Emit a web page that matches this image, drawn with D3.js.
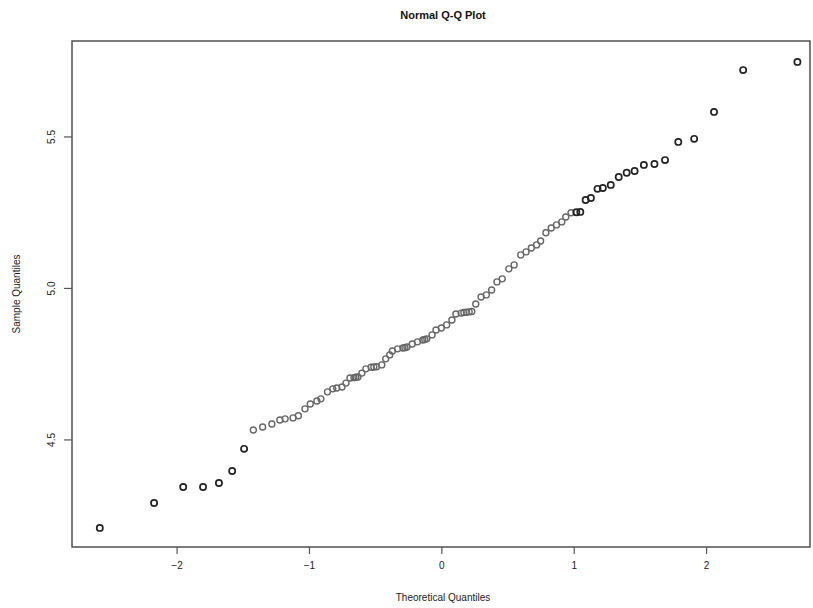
<!DOCTYPE html>
<html>
<head>
<meta charset="utf-8">
<script src="https://cdn.jsdelivr.net/npm/d3@7"></script>
<style>
  html, body { margin: 0; padding: 0; background: #fff; }
  svg { display: block; font-family: "Liberation Sans", Arial, sans-serif; }
</style>
</head>
<body>
<svg id="chart" width="813" height="608"></svg>
<script>
// Theoretical quantiles (x) and sample quantiles (y)
const theoretical = [
  -2.58, -2.17, -1.95, -1.80, -1.68, -1.58, -1.49, -1.42, -1.35, -1.28,
  -1.22, -1.18, -1.12, -1.08, -1.03, -0.99, -0.94, -0.91, -0.86, -0.82,
  -0.79, -0.75, -0.72, -0.69, -0.66, -0.645, -0.63, -0.60, -0.57, -0.53,
  -0.51, -0.49, -0.45, -0.42, -0.39, -0.37, -0.33, -0.29, -0.275, -0.26,
  -0.22, -0.18, -0.14, -0.125, -0.11, -0.07, -0.04, 0.00, 0.04, 0.08,
  0.11, 0.15, 0.17, 0.19, 0.21, 0.23, 0.26, 0.30, 0.34, 0.38,
  0.42, 0.46, 0.51, 0.55, 0.60, 0.64, 0.68, 0.72, 0.75, 0.79,
  0.83, 0.87, 0.91, 0.94, 0.98, 1.02, 1.05, 1.09, 1.13, 1.18,
  1.22, 1.28, 1.34, 1.40, 1.46, 1.53, 1.61, 1.69, 1.79, 1.91,
  2.06, 2.28, 2.69
];
const sample = [
  4.208, 4.290, 4.343, 4.343, 4.356, 4.396, 4.469, 4.531, 4.541, 4.551,
  4.564, 4.568, 4.571, 4.578, 4.601, 4.617, 4.627, 4.634, 4.657, 4.667,
  4.670, 4.673, 4.686, 4.703, 4.704, 4.705, 4.706, 4.719, 4.733, 4.738,
  4.739, 4.740, 4.746, 4.766, 4.779, 4.792, 4.799, 4.802, 4.803, 4.805,
  4.815, 4.822, 4.828, 4.830, 4.832, 4.845, 4.861, 4.868, 4.878, 4.894,
  4.914, 4.917, 4.919, 4.920, 4.921, 4.922, 4.947, 4.970, 4.977, 4.993,
  5.020, 5.030, 5.063, 5.076, 5.109, 5.119, 5.132, 5.142, 5.155, 5.182,
  5.198, 5.208, 5.218, 5.234, 5.248, 5.250, 5.251, 5.290, 5.297, 5.327,
  5.330, 5.340, 5.366, 5.380, 5.386, 5.406, 5.409, 5.422, 5.482, 5.492,
  5.581, 5.719, 5.746
];
const xTicks = [-2, -1, 0, 1, 2];
const yTicks = [4.5, 5.0, 5.5];
const yTickLabels = ["4.5", "5.0", "5.5"];
const xDomain = [-2.79, 2.785];
const yDomain = [4.145, 5.815];
const titleText = "Normal Q-Q Plot";
const xLabel = "Theoretical Quantiles";
const yLabel = "Sample Quantiles";

const svg = d3.select("#chart");
const plot = { left: 72, right: 810, top: 41, bottom: 547 };

const x = d3.scaleLinear().domain(xDomain).range([plot.left, plot.right]);
const y = d3.scaleLinear().domain(yDomain).range([plot.bottom, plot.top]);

// Title
svg.append("text")
  .attr("x", (plot.left + plot.right) / 2 + 2)
  .attr("y", 19)
  .attr("text-anchor", "middle")
  .attr("font-size", 11)
  .attr("font-weight", "bold")
  .attr("fill", "#111")
  .text(titleText);

// Box
svg.append("rect")
  .attr("x", plot.left).attr("y", plot.top)
  .attr("width", plot.right - plot.left)
  .attr("height", plot.bottom - plot.top)
  .attr("fill", "none")
  .attr("stroke", "#444")
  .attr("stroke-width", 1.4);

// X axis
const xAxis = d3.axisBottom(x).tickValues(xTicks)
  .tickSize(7).tickPadding(8)
  .tickFormat(d => d < 0 ? "\u2212" + Math.abs(d) : String(d));
const gx = svg.append("g").attr("transform", `translate(0,${plot.bottom})`).call(xAxis);
gx.select(".domain").remove();
gx.selectAll(".tick line").attr("stroke", "#555").attr("stroke-width", 1.2);
gx.selectAll(".tick text").attr("font-size", 10).attr("fill", "#222")
  .attr("font-family", "Liberation Sans, Arial, sans-serif");

// Y axis
const yAxis = d3.axisLeft(y).tickValues(yTicks)
  .tickSize(8).tickPadding(0)
  .tickFormat((d, i) => yTickLabels[i]);
const gy = svg.append("g").attr("transform", `translate(${plot.left},0)`).call(yAxis);
gy.select(".domain").remove();
gy.selectAll(".tick line").attr("stroke", "#555").attr("stroke-width", 1.2);
gy.selectAll(".tick text")
  .attr("font-size", 10).attr("fill", "#222")
  .attr("font-family", "Liberation Sans, Arial, sans-serif")
  .attr("x", 0).attr("dy", 0)
  .attr("text-anchor", "middle")
  .attr("transform", "translate(-17,0) rotate(-90)");

// Axis labels
svg.append("text")
  .attr("x", (plot.left + plot.right) / 2 + 2)
  .attr("y", 601)
  .attr("text-anchor", "middle")
  .attr("font-size", 10)
  .attr("fill", "#222")
  .text(xLabel);

svg.append("text")
  .attr("transform", `translate(20,${(plot.top + plot.bottom) / 2}) rotate(-90)`)
  .attr("text-anchor", "middle")
  .attr("font-size", 10)
  .attr("fill", "#222")
  .text(yLabel);

// Points
const pts = theoretical.map((t, i) => ({ t, s: sample[i] }));
const isMid = d => d.t > -1.45 && d.t < 1.0;
svg.append("g").selectAll("circle").data(pts).join("circle")
  .attr("cx", d => x(d.t))
  .attr("cy", d => y(d.s))
  .attr("r", d => isMid(d) ? 3.0 : 3.1)
  .attr("fill", "none")
  .attr("stroke", d => isMid(d) ? "#666" : "#222")
  .attr("stroke-width", d => isMid(d) ? 1.4 : 1.7);
</script>
</body>
</html>
